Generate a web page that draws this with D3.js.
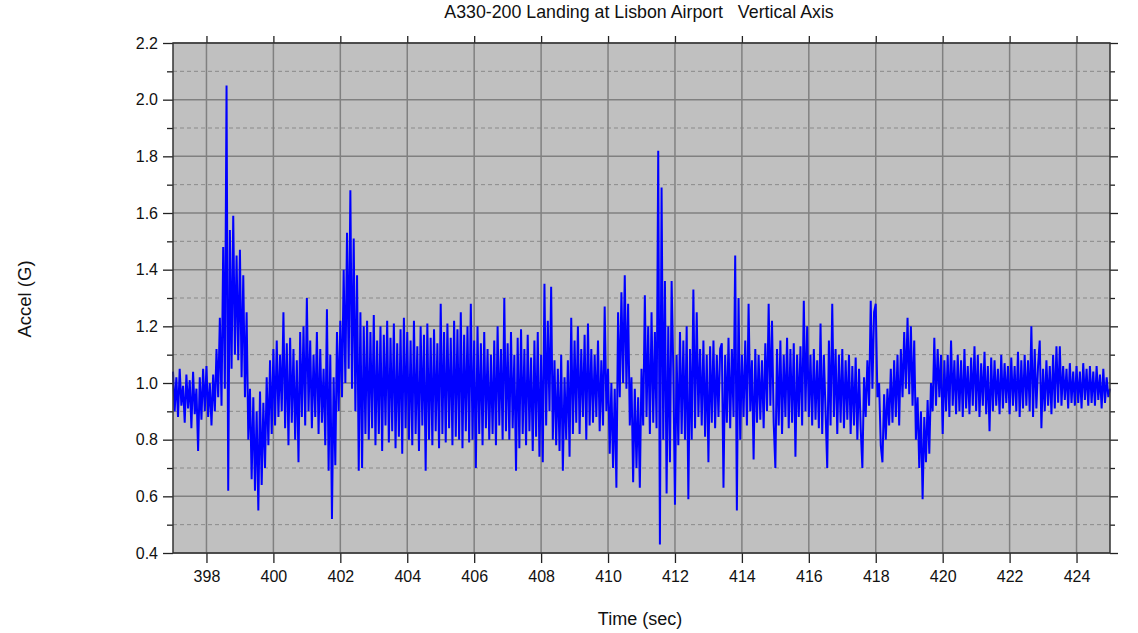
<!DOCTYPE html>
<html><head><meta charset="utf-8">
<script src="https://cdn.jsdelivr.net/npm/d3@7"></script>
<style>
html,body{margin:0;padding:0;background:#fff;}
text{font-family:"Liberation Sans",Arial,sans-serif;fill:#111;white-space:pre;}
</style></head>
<body><svg id="c" width="1138" height="633"></svg>
<script>
const chartTitle = "A330-200 Landing at Lisbon Airport   Vertical Axis";
const xLabel = "Time (sec)";
const yLabel = "Accel (G)";
const xDomain = [397, 425];
const yDomain = [0.4, 2.2];
const xTicks = [398,400,402,404,406,408,410,412,414,416,418,420,422,424];
const yTicks = [0.4,0.6,0.8,1.0,1.2,1.4,1.6,1.8,2.0,2.2];
const yMinorTicks = [0.5,0.7,0.9,1.1,1.3,1.5,1.7,1.9,2.1];
const timeStart = 397;
const timeStep = 0.05;
// vertical acceleration samples (G), one every 0.05 s from 397.0 s
const accel = [
1.04,0.90,1.02,0.88,1.05,0.92,0.99,0.86,1.03,0.91,
1.01,0.84,1.04,0.89,0.98,0.76,1.02,0.87,1.05,0.90,
1.06,0.88,1.00,0.85,1.03,0.90,1.12,0.95,1.23,0.92,
1.48,0.98,2.05,0.62,1.54,1.05,1.59,1.10,1.45,1.08,
1.47,1.02,1.38,0.95,1.25,0.80,0.98,0.66,0.95,0.62,
0.90,0.55,0.97,0.64,0.93,0.70,1.02,0.78,1.08,0.82,
1.12,0.85,1.15,0.88,1.10,0.90,1.25,0.84,1.14,0.78,
1.16,0.86,1.12,0.80,1.08,0.72,1.18,0.88,1.20,0.85,
1.30,0.90,1.15,0.84,1.10,0.88,1.18,0.82,1.12,0.86,
1.05,0.78,1.26,0.69,1.10,0.52,1.02,0.71,1.18,0.90,
1.22,0.95,1.40,1.00,1.53,1.05,1.68,0.98,1.51,0.90,
1.38,0.69,1.25,0.70,1.20,0.82,1.22,0.80,1.18,0.84,
1.24,0.78,1.15,0.82,1.20,0.76,1.17,0.85,1.22,0.79,
1.16,0.83,1.21,0.77,1.14,0.81,1.19,0.75,1.23,0.84,
1.18,0.80,1.15,0.78,1.22,0.82,1.13,0.76,1.20,0.85,
1.17,0.69,1.21,0.80,1.16,0.78,1.19,0.83,1.14,0.77,
1.28,0.82,1.18,0.79,1.21,0.84,1.16,0.78,1.22,0.81,
1.19,0.80,1.25,0.77,1.17,0.83,1.20,0.79,1.28,0.80,
1.15,0.70,1.20,0.82,1.14,0.78,1.18,0.84,1.12,0.80,
1.10,0.82,1.15,0.78,1.20,0.85,1.12,0.80,1.30,0.83,
1.14,0.80,1.18,0.84,1.10,0.69,1.16,0.77,1.19,0.82,
1.12,0.78,1.17,0.83,1.09,0.76,1.15,0.81,1.18,0.74,
1.10,0.72,1.35,0.85,1.22,0.90,1.34,0.80,1.08,0.78,
1.05,0.76,1.10,0.69,1.02,0.80,1.08,0.74,1.23,0.82,
1.15,0.86,1.20,0.82,1.12,0.88,1.17,0.80,1.21,0.85,
1.12,0.86,1.10,0.88,1.15,0.83,1.08,0.85,1.27,0.90,
1.05,0.75,1.00,0.70,0.98,0.63,1.25,0.95,1.32,1.00,
1.38,0.98,1.28,0.85,1.02,0.65,0.98,0.70,0.95,0.63,
1.05,0.85,1.31,0.88,1.20,0.82,1.25,0.86,1.18,0.84,
1.82,0.43,1.69,0.80,1.36,0.61,1.20,0.72,1.36,1.05,
0.57,1.10,0.78,1.18,0.82,1.15,0.80,1.20,0.59,1.12,
0.80,1.33,0.84,1.25,0.88,1.12,0.85,1.15,0.81,1.10,
0.72,1.13,0.86,1.15,0.84,1.10,0.88,1.12,1.14,0.63,
1.10,0.86,1.16,0.84,1.12,0.88,1.45,0.55,1.30,0.80,
1.10,0.88,1.15,0.85,1.28,0.90,1.08,0.73,1.12,0.86,
1.10,0.87,1.08,0.84,1.14,0.90,1.28,0.92,1.22,0.86,
0.70,1.12,0.85,1.15,0.82,1.10,0.88,1.16,0.84,1.12,
0.86,1.14,0.74,1.10,0.88,1.13,0.85,1.29,0.90,1.20,
0.88,1.10,0.85,1.12,0.87,1.08,0.84,1.21,0.82,1.10,
0.90,0.70,1.15,0.85,1.28,0.88,1.12,0.82,1.10,0.86,
1.12,0.84,1.08,0.87,1.10,0.82,1.06,0.85,1.09,0.80,
1.05,0.84,0.70,1.02,0.88,1.08,0.92,1.29,0.98,1.25,
1.28,0.95,1.00,0.78,0.72,0.96,0.80,0.98,0.85,1.05,
0.86,1.08,0.88,1.10,0.85,1.12,0.95,1.18,0.98,1.23,
0.96,1.20,0.92,1.15,0.80,0.95,0.70,0.90,0.59,0.88,
0.72,0.94,0.75,1.00,0.90,1.16,0.92,1.12,0.95,1.10,
0.82,1.08,0.90,1.10,0.88,1.15,0.92,1.08,0.89,1.10,
0.90,1.08,0.88,1.12,0.91,1.06,0.89,1.09,0.92,1.13,
0.90,1.10,0.88,1.07,0.92,1.11,0.89,1.06,0.83,1.09,
0.90,1.08,0.92,1.05,0.89,1.10,0.91,1.07,0.93,1.06,
0.89,1.09,0.92,1.06,0.90,1.11,0.88,1.08,0.91,1.10,
0.92,1.08,0.90,1.20,0.88,1.12,0.91,1.06,1.15,0.84,
1.05,0.90,1.08,0.92,1.06,0.89,1.10,0.91,1.13,0.93,
1.13,0.92,1.06,0.94,1.05,0.91,1.07,0.93,1.04,0.92,
1.06,0.93,1.04,0.91,1.07,0.94,1.05,0.92,1.06,0.93,
1.04,0.92,1.06,0.94,1.03,0.91,1.05,0.93,1.02,0.95,
0.98
];

const svg = d3.select("#c");
const L = 173, R = 1110, T = 43, B = 553;
const x = d3.scaleLinear().domain(xDomain).range([L, R]);
const y = d3.scaleLinear().domain(yDomain).range([B, T]);

svg.append("rect").attr("x", L).attr("y", T).attr("width", R - L).attr("height", B - T).attr("fill", "#c0c0c0");

// minor dashed horizontal grid
svg.append("g").selectAll("line").data(yMinorTicks).join("line")
  .attr("x1", L).attr("x2", R).attr("y1", d => y(d)).attr("y2", d => y(d))
  .attr("stroke", "#8a8a8a").attr("stroke-width", 1).attr("stroke-dasharray", "4,3");
// major horizontal grid
svg.append("g").selectAll("line").data(yTicks).join("line")
  .attr("x1", L).attr("x2", R).attr("y1", d => y(d)).attr("y2", d => y(d))
  .attr("stroke", "#808080").attr("stroke-width", 1.5);
// vertical grid
svg.append("g").selectAll("line").data(xTicks).join("line")
  .attr("x1", d => x(d)).attr("x2", d => x(d)).attr("y1", T).attr("y2", B)
  .attr("stroke", "#808080").attr("stroke-width", 1.5);

// data line
const pts = accel.map((v, i) => [timeStart + i * timeStep, v]);
const line = d3.line().x(d => x(d[0])).y(d => y(d[1]));
svg.append("path").datum(pts).attr("d", line)
  .attr("fill", "none").attr("stroke", "#0000ff").attr("stroke-width", 2)
  .attr("stroke-linejoin", "miter").attr("stroke-miterlimit", 2);

// axes
const fmtY = d3.format(".1f");
const axL = svg.append("g").attr("transform", `translate(${L},0)`)
  .call(d3.axisLeft(y).tickValues(yTicks).tickFormat(fmtY).tickSize(10).tickPadding(5));
const axLm = svg.append("g").attr("transform", `translate(${L},0)`)
  .call(d3.axisLeft(y).tickValues(yMinorTicks).tickFormat("").tickSize(6));
const axRg = svg.append("g").attr("transform", `translate(${R},0)`)
  .call(d3.axisRight(y).tickValues(yTicks).tickFormat("").tickSize(8));
const axRm = svg.append("g").attr("transform", `translate(${R},0)`)
  .call(d3.axisRight(y).tickValues(yMinorTicks).tickFormat("").tickSize(5));
const axB = svg.append("g").attr("transform", `translate(0,${B})`)
  .call(d3.axisBottom(x).tickValues(xTicks).tickFormat(d3.format("d")).tickSize(10).tickPadding(8));
const axT = svg.append("g").attr("transform", `translate(0,${T})`)
  .call(d3.axisTop(x).tickValues(xTicks).tickFormat("").tickSize(7));
[axL, axLm, axRg, axRm, axB, axT].forEach(g => {
  g.select(".domain").remove();
  g.selectAll(".tick line").attr("stroke", "#222").attr("stroke-width", 1.3);
  g.selectAll("text").style("font-family", "'Liberation Sans', Arial, sans-serif")
    .style("font-size", "16px").attr("fill", "#111");
});

// frame
svg.append("rect").attr("x", L).attr("y", T).attr("width", R - L).attr("height", B - T)
  .attr("fill", "none").attr("stroke", "#333").attr("stroke-width", 1.5);

svg.append("text").attr("x", 639).attr("y", 18).attr("text-anchor", "middle")
  .attr("xml:space", "preserve")
  .style("font-size", "17.8px").text(chartTitle);
svg.append("text").attr("x", 640).attr("y", 625).attr("text-anchor", "middle")
  .style("font-size", "18px").text(xLabel);
svg.append("text").attr("transform", "translate(31,299) rotate(-90)").attr("text-anchor", "middle")
  .style("font-size", "18.5px").text(yLabel);
</script></body></html>
